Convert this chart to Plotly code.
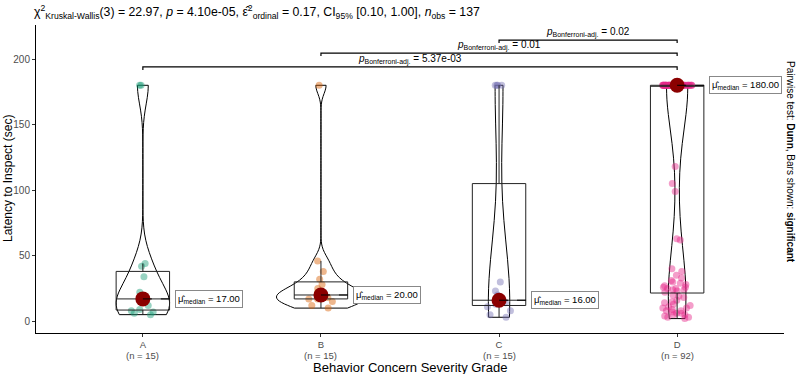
import numpy as np
import plotly.graph_objects as go

# ---------------- data ----------------
categories = ["A", "B", "C", "D"]
grade_a = [5, 6, 7, 8, 9, 12, 15, 17, 18, 22, 34, 42, 44, 180, 180]
grade_b = [10, 12, 15, 17, 17, 18, 19, 20, 22, 25, 28, 32, 38, 46, 180]
grade_c = [3, 5, 8, 11, 13, 14, 15, 16, 20, 23, 30, 180, 180, 180, 180]
grade_d = ([2, 3, 3, 4, 5, 5, 6, 6, 7, 8, 8, 9, 10, 10, 11, 12, 13, 14, 15, 16, 18, 19, 20]
           + [22, 23, 24, 24, 25, 25, 26, 26, 27, 28, 29, 30, 31, 33, 35, 38, 40, 62, 63, 99, 105, 118]
           + [180] * 47)
groups = [grade_a, grade_b, grade_c, grade_d]
pair_labels = [("A", "D", "5.37e-03"), ("B", "D", "0.01"), ("C", "D", "0.02")]
title_text = ("χ<sup>2</sup><sub>Kruskal-Wallis</sub>(3) = 22.97, <i>p</i> = 4.10e-05, "
              "ε̂<sup>2</sup><sub>ordinal</sub> = 0.17, CI<sub>95%</sub> [0.10, 1.00], "
              "<i>n</i><sub>obs</sub> = 137")
side_text = "Pairwise test: <b>Dunn</b>, Bars shown: <b>significant</b>"
x_title = "Behavior Concern Severity Grade"
y_title = "Latency to Inspect (sec)"

# ---------------- style ----------------
colors = ["#1B9E77", "#D95F02", "#7570B3", "#E7298A"]
violin_widths = [0.30, 0.50, 0.12, 0.12]
bracket_levels = [194, 204.6, 214.5]
FONT = "Liberation Sans, Arial, sans-serif"
W, H = 800, 374
ML, MR, MT, MB = 36, 16, 25, 41

fig = go.Figure()
xpos = {c: i + 1 for i, c in enumerate(categories)}


def box_stats(vals):
    v = np.asarray(vals, dtype=float)
    q1, med, q3 = np.percentile(v, [25, 50, 75])  # R type 7 (ggplot default)
    iqr = q3 - q1
    lo = v[v >= q1 - 1.5 * iqr].min()
    hi = v[v <= q3 + 1.5 * iqr].max()
    return q1, med, q3, lo, hi


# violins
for i, (cat, vals) in enumerate(zip(categories, groups)):
    fig.add_trace(go.Violin(
        x=[xpos[cat]] * len(vals), y=vals, width=violin_widths[i],
        spanmode="hard", scalemode="width",
        points=False, box_visible=False, meanline_visible=False,
        line=dict(color="black", width=1), fillcolor="rgba(255,255,255,0.2)",
        showlegend=False, hoverinfo="skip"))

# jittered raw points (box invisible, only its sample points shown)
for i, (cat, vals) in enumerate(zip(categories, groups)):
    fig.add_trace(go.Box(
        x=[xpos[cat]] * len(vals), y=vals, width=0.3, boxpoints="all",
        jitter=0.55, pointpos=0,
        line=dict(color="rgba(0,0,0,0)", width=0), fillcolor="rgba(0,0,0,0)",
        marker=dict(color=colors[i], opacity=0.45, size=7, line=dict(width=0)),
        showlegend=False, hoverinfo="skip"))

# boxplots with ggplot (type 7) statistics
for i, (cat, vals) in enumerate(zip(categories, groups)):
    q1, med, q3, lo, hi = box_stats(vals)
    fig.add_trace(go.Box(
        x=[xpos[cat]], q1=[q1], median=[med], q3=[q3],
        lowerfence=[lo], upperfence=[hi], width=0.3, boxpoints=False,
        whiskerwidth=0, line=dict(color="#222222", width=1),
        fillcolor="rgba(0,0,0,0)", showlegend=False, hoverinfo="skip"))

medians = [float(np.median(v)) for v in groups]
label_dx = 0.18
for i, cat in enumerate(categories):
    xc = xpos[cat]
    m = medians[i]
    fig.add_shape(type="line", x0=xc, x1=xc + label_dx, y0=m, y1=m,
                  line=dict(color="black", width=1, dash="dash"))
    fig.add_annotation(x=xc + label_dx, y=m, xanchor="left", yanchor="middle",
                       text="μ̂<sub>median</sub> = %.2f" % m, showarrow=False,
                       font=dict(family=FONT, size=9.5, color="black"),
                       bgcolor="white", bordercolor="#888888", borderwidth=1, borderpad=2)

fig.add_trace(go.Scatter(
    x=[xpos[c] for c in categories], y=medians, mode="markers",
    marker=dict(color="#8B0000", size=15), showlegend=False, hoverinfo="skip"))

# significance brackets
tip = 2.3
for (a, b, p), lvl in zip(pair_labels, bracket_levels):
    x0, x1 = xpos[a], xpos[b]
    fig.add_shape(type="path",
                  path=f"M {x0},{lvl - tip} L {x0},{lvl} L {x1},{lvl} L {x1},{lvl - tip}",
                  line=dict(color="black", width=1.2))
    fig.add_annotation(x=(x0 + x1) / 2, y=lvl, yanchor="bottom", showarrow=False,
                       text=f"<i>p</i><sub>Bonferroni-adj.</sub> = {p}",
                       font=dict(family=FONT, size=10, color="black"), yshift=-1)

fig.update_layout(
    width=W, height=H,
    margin=dict(l=ML, r=MR, t=MT, b=MB, autoexpand=False),
    paper_bgcolor="white", plot_bgcolor="white",
    font=dict(family=FONT, color="black"),
    xaxis=dict(range=[0.4, 4.6], tickvals=[xpos[c] for c in categories], ticktext=categories,
               automargin=False,
               showgrid=False, zeroline=False, showline=True, linecolor="black",
               linewidth=1, ticks="outside", ticklen=3, tickcolor="#333333",
               tickfont=dict(family=FONT, size=9.5, color="#4D4D4D")),
    yaxis=dict(range=[-9, 226], tickvals=[0, 50, 100, 150, 200],
               automargin=False,
               showgrid=False, zeroline=False, showline=True, linecolor="black",
               linewidth=1, ticks="outside", ticklen=3, tickcolor="#333333",
               tickfont=dict(family=FONT, size=10, color="#4D4D4D")),
)

# group sizes under the tick labels
for c, v in zip(categories, groups):
    fig.add_annotation(x=xpos[c], yref="paper", y=0, yshift=-(355 - (H - MB)),
                       xanchor="center", yanchor="middle", showarrow=False,
                       text=f"(n = {len(v)})",
                       font=dict(family=FONT, size=9.5, color="#4D4D4D"))

# title
fig.add_annotation(xref="paper", yref="paper", x=0, xshift=32 - ML, y=1, yshift=MT - 12,
                   xanchor="left", yanchor="middle", showarrow=False, text=title_text,
                   font=dict(family=FONT, size=12.3, color="black"))

# axis titles
fig.add_annotation(xref="paper", yref="paper", x=0.5, y=0, yshift=-(367 - (H - MB)),
                   xanchor="center", yanchor="middle", showarrow=False, text=x_title,
                   font=dict(family=FONT, size=13, color="black"))
fig.add_annotation(xref="paper", yref="paper", x=0, xshift=-(ML - 8), y=0.5,
                   xanchor="center", yanchor="middle", textangle=-90, showarrow=False,
                   text=y_title, font=dict(family=FONT, size=12, color="black"))

# caption on the right
fig.add_annotation(xref="paper", yref="paper", x=1, xshift=791 - (W - MR),
                   y=(H - MB - 162) / (H - MB - MT),
                   xanchor="center", yanchor="middle", textangle=90, showarrow=False,
                   text=side_text, font=dict(family=FONT, size=10, color="black"))

fig.write_html("out.html")
